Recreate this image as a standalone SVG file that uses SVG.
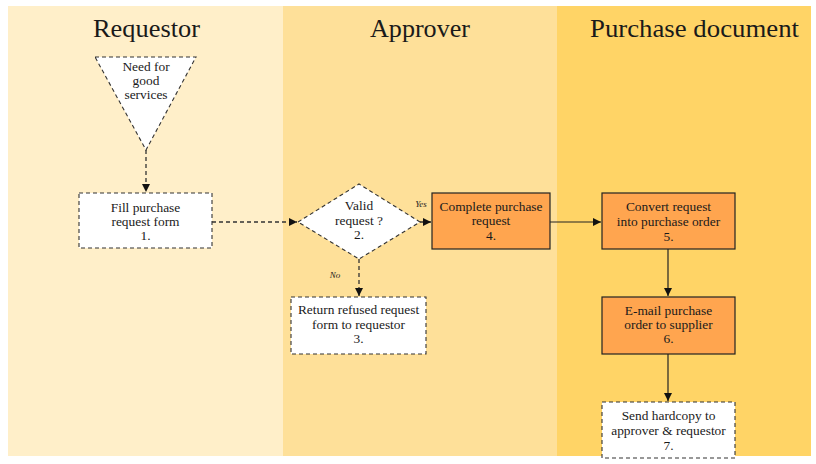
<svg xmlns="http://www.w3.org/2000/svg" width="816" height="464" viewBox="0 0 816 464">
<defs>
<style>
.lane-title{font-family:"Liberation Serif","DejaVu Serif",serif;font-size:25px;fill:#1a1a1a;text-anchor:middle}
.t{font-family:"Liberation Serif","DejaVu Serif",serif;font-size:13.4px;fill:#1a1a1a;text-anchor:middle}
.lbl{font-family:"Liberation Serif","DejaVu Serif",serif;font-size:9px;font-style:italic;fill:#1a1a1a;text-anchor:middle}
.dash{fill:#ffffff;stroke:#333;stroke-width:1.1;stroke-dasharray:4 3}
.solid{fill:#FFA54F;stroke:#222;stroke-width:1.2}
.cd{fill:none;stroke:#333;stroke-width:1.3;stroke-dasharray:4 3}
.cs{fill:none;stroke:#222;stroke-width:1.2}
</style>
<marker id="ah" viewBox="0 0 10 10" refX="10" refY="5" markerWidth="8" markerHeight="8" markerUnits="userSpaceOnUse" orient="auto">
<path d="M0,0 L10,5 L0,10 z" fill="#111"/>
</marker>
</defs>
<rect x="0" y="0" width="816" height="464" fill="#ffffff"/>
<g id="lanes">
<rect x="8" y="6" width="275" height="450" fill="#FFEFC9"/>
<rect x="283" y="6" width="274" height="450" fill="#FEE099"/>
<rect x="557" y="6" width="254" height="450" fill="#FFD466"/>
<text class="lane-title" x="146.5" y="37" textLength="107" lengthAdjust="spacingAndGlyphs">Requestor</text>
<text class="lane-title" x="420" y="37" textLength="100" lengthAdjust="spacingAndGlyphs">Approver</text>
<text class="lane-title" x="694.5" y="37" textLength="209" lengthAdjust="spacingAndGlyphs">Purchase document</text>
</g>
<g id="connectors">
<path class="cd" d="M146,150 L146,192" marker-end="url(#ah)"/>
<path class="cd" d="M212,222 L297,222" marker-end="url(#ah)"/>
<path class="cd" d="M420,222 L431,222" marker-end="url(#ah)"/>
<path class="cd" d="M359,259 L359,296" marker-end="url(#ah)"/>
<path class="cs" d="M550,222 L601,222" marker-end="url(#ah)"/>
<path class="cs" d="M668,249 L668,296" marker-end="url(#ah)"/>
<path class="cs" d="M668,354 L668,401" marker-end="url(#ah)"/>
<text class="lbl" x="421" y="207">Yes</text>
<text class="lbl" x="335" y="278">No</text>
</g>
<g id="start">
<polygon class="dash" points="95,57 196,57 146,150"/>
<text class="t" x="146" y="71">Need for</text>
<text class="t" x="146" y="85">good</text>
<text class="t" x="146" y="99">services</text>
</g>
<g id="n1">
<rect class="dash" x="79" y="193" width="133" height="55"/>
<text class="t" x="145.5" y="212">Fill purchase</text>
<text class="t" x="145.5" y="226">request form</text>
<text class="t" x="145.5" y="240">1.</text>
</g>
<g id="n2">
<polygon class="dash" points="298,222 359,184 420,222 359,259"/>
<text class="t" x="359" y="210">Valid</text>
<text class="t" x="359" y="225">request ?</text>
<text class="t" x="359" y="239">2.</text>
</g>
<g id="n3">
<rect class="dash" x="291" y="297" width="135" height="57"/>
<text class="t" x="358.5" y="314">Return refused request</text>
<text class="t" x="358.5" y="329">form to requestor</text>
<text class="t" x="358.5" y="343">3.</text>
</g>
<g id="n4">
<rect class="solid" x="432" y="193" width="118" height="56"/>
<text class="t" x="491" y="211">Complete purchase</text>
<text class="t" x="491" y="225">request</text>
<text class="t" x="491" y="240">4.</text>
</g>
<g id="n5">
<rect class="solid" x="602" y="193" width="133" height="56"/>
<text class="t" x="668.5" y="211">Convert request</text>
<text class="t" x="668.5" y="226">into purchase order</text>
<text class="t" x="668.5" y="241">5.</text>
</g>
<g id="n6">
<rect class="solid" x="602" y="297" width="133" height="57"/>
<text class="t" x="668.5" y="315">E-mail purchase</text>
<text class="t" x="668.5" y="329">order to supplier</text>
<text class="t" x="668.5" y="343">6.</text>
</g>
<g id="n7">
<rect class="dash" x="602" y="402" width="133" height="56"/>
<text class="t" x="668.5" y="420">Send hardcopy to</text>
<text class="t" x="668.5" y="435">approver &amp; requestor</text>
<text class="t" x="668.5" y="450">7.</text>
</g>
</svg>
